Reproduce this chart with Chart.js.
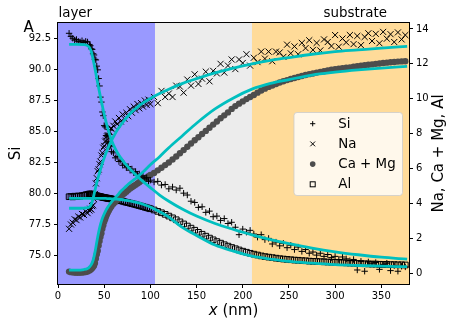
<!DOCTYPE html>
<html><head><meta charset="utf-8">
<script src="https://cdn.jsdelivr.net/npm/chart.js@4.4.0/dist/chart.umd.min.js"></script>
<style>html,body{margin:0;padding:0;background:#fff;overflow:hidden}</style>
</head><body>
<canvas id="c" width="449" height="320"></canvas>
<script>
// ---- data ----
const X = [12,14,16,18,20,22,24,26,28,30,32,34,
 35,36,37,38,39,40,41,42,43,44,45,46,47,48,49,50,51,52,53,54,55,56,57,58,
 60,62,64,66,68,70,72,74,76,78,80,82,84,86,88,90,92,94,96,98,100,
 104,108,112,116,120,124,128,132,136,140,144,148,152,156,160,164,168,172,176,180,184,188,192,196,200,
 204,208,212,216,220,224,228,232,236,240,244,248,252,256,260,264,268,272,276,280,284,288,292,296,300,
 304,308,312,316,320,324,328,332,336,340,344,348,352,356,360,364,368,372,376];
const SI = [92.95,92.7,92.55,92.4,92.45,92.3,92.25,92.35,92.2,92.3,92.25,92.05,
 91.95,91.7,91.65,91.3,91.2,90.85,90.8,90.3,90.0,89.3,88.7,87.8,87.4,86.6,86.3,85.5,85.4,84.7,84.6,84.1,84.2,83.8,83.9,83.4,
 83.3,82.9,83.0,82.6,82.7,82.3,82.4,82.1,82.2,81.9,82.0,81.7,81.8,81.5,81.6,81.35,81.45,81.2,81.3,81.0,81.1,
 80.95,81.0,80.7,80.75,80.4,80.55,80.3,80.45,80.05,79.9,79.4,79.3,78.9,78.95,78.5,78.6,78.15,78.2,77.85,78.0,77.6,77.7,77.3,76.7,77.15,
 76.9,77.05,76.75,76.5,76.7,76.3,76.4,75.95,76.1,75.8,76.0,75.65,75.85,75.5,75.7,75.35,75.5,75.2,75.3,75.05,75.2,74.95,75.1,74.85,74.95,
 74.7,74.9,74.75,74.6,74.7,73.85,74.55,73.75,74.5,74.35,74.45,73.9,74.3,74.4,73.8,74.2,73.75,74.15,74.1];
const NA = [2.55,2.8,2.9,3.1,3.05,3.25,3.2,3.4,3.35,3.55,3.45,3.6,
 3.7,3.65,3.85,3.9,4.25,4.55,5.15,5.45,5.85,5.95,6.25,6.4,6.75,6.9,7.2,7.3,7.55,7.6,7.85,7.9,8.1,8.1,8.3,8.3,
 8.45,8.7,8.55,8.9,8.7,9.1,8.85,9.2,9.0,9.4,9.2,9.55,9.35,9.7,9.45,9.75,9.55,9.9,9.65,9.95,9.7,
 10.1,9.75,10.45,10.1,10.3,10.1,10.75,10.7,10.35,11.1,10.75,11.4,10.85,11.15,11.55,11.0,11.6,11.45,12.0,11.5,11.9,12.25,11.7,12.25,12.05,
 12.55,11.9,12.35,12.1,12.7,12.3,12.7,12.15,12.7,12.65,12.4,13.1,12.6,13.0,12.55,13.2,12.9,13.35,12.8,13.2,12.77,13.4,13.25,13.02,13.65,
 12.98,13.45,13.23,13.65,13.13,13.6,13.07,13.54,13.75,13.31,13.72,13.18,13.83,13.44,13.7,13.25,13.8,13.4,13.65];
const CA = [0.1,0.07,0.06,0.05,0.04,0.04,0.05,0.05,0.06,0.08,0.11,0.16,
 0.2,0.25,0.3,0.38,0.45,0.6,0.85,1.1,1.3,1.6,1.85,2.1,2.3,2.55,2.75,2.95,3.1,3.25,3.38,3.5,3.6,3.7,3.78,3.86,
 3.98,4.08,4.2,4.3,4.4,4.5,4.59,4.68,4.77,4.86,4.93,5.0,5.07,5.15,5.22,5.3,5.37,5.44,5.5,5.57,5.63,
 5.75,5.9,6.05,6.2,6.35,6.52,6.69,6.88,7.06,7.25,7.44,7.62,7.8,7.98,8.16,8.34,8.52,8.7,8.88,9.05,9.22,9.42,9.58,9.72,9.85,
 9.98,10.1,10.22,10.35,10.47,10.58,10.68,10.76,10.85,10.93,11.0,11.07,11.13,11.19,11.25,11.3,11.36,11.41,11.45,11.5,11.54,11.58,11.62,11.66,11.69,
 11.72,11.75,11.78,11.8,11.83,11.86,11.89,11.92,11.95,11.97,12.0,12.02,12.05,12.07,12.09,12.11,12.13,12.14,12.15];
const AL = [4.39,4.4,4.38,4.42,4.4,4.43,4.42,4.45,4.47,4.5,4.52,4.55,
 4.52,4.55,4.53,4.5,4.48,4.47,4.45,4.44,4.43,4.41,4.4,4.39,4.38,4.36,4.35,4.34,4.33,4.32,4.31,4.3,4.29,4.28,4.27,4.26,
 4.24,4.22,4.2,4.18,4.16,4.13,4.1,4.07,4.05,4.02,3.99,3.97,3.94,3.91,3.88,3.85,3.82,3.79,3.76,3.73,3.7,
 3.63,3.55,3.47,3.38,3.28,3.18,3.07,2.95,2.83,2.71,2.59,2.47,2.35,2.24,2.13,2.02,1.92,1.82,1.73,1.64,1.56,1.48,1.41,1.34,1.27,
 1.21,1.15,1.1,1.05,1.0,0.96,0.93,0.9,0.87,0.84,0.82,0.8,0.78,0.76,0.75,0.73,0.72,0.7,0.69,0.68,0.67,0.66,0.65,0.64,0.63,
 0.62,0.61,0.6,0.59,0.58,0.57,0.56,0.55,0.54,0.53,0.53,0.52,0.51,0.51,0.5,0.5,0.49,0.49,0.48];

const FIT_X = [12,20,28,32,34,36,38,40,42,44,46,48,50,52,54,56,58,60,64,68,72,76,80,86,92,100,110,120,135,150,170,190,210,230,250,275,300,325,350,378];
const SI_FIT = [92.05,92.05,92.03,91.95,91.8,91.5,90.85,90.1,89.3,88.55,87.8,87.1,86.4,85.8,85.25,84.75,84.3,83.95,83.35,82.9,82.5,82.15,81.85,81.4,81.0,80.5,79.9,79.4,78.75,78.2,77.6,77.12,76.68,76.3,75.98,75.62,75.32,75.08,74.88,74.72];
const NA_FIT = [3.73,3.73,3.74,3.76,3.8,3.95,4.3,4.75,5.2,5.6,5.95,6.3,6.6,6.9,7.15,7.4,7.62,7.82,8.2,8.5,8.78,9.03,9.25,9.52,9.76,10.02,10.3,10.55,10.88,11.15,11.48,11.75,12.0,12.2,12.36,12.55,12.7,12.8,12.9,13.0];
const CA_FIT = [0.19,0.19,0.22,0.28,0.36,0.5,0.75,1.2,1.8,2.35,2.8,3.15,3.4,3.62,3.8,3.96,4.1,4.22,4.45,4.7,4.9,5.1,5.27,5.52,5.8,6.22,6.68,7.2,7.9,8.6,9.42,10.05,10.55,10.88,11.1,11.36,11.52,11.65,11.76,11.86];
const AL_FIT = [4.3,4.3,4.3,4.3,4.3,4.3,4.3,4.3,4.3,4.3,4.3,4.29,4.29,4.29,4.28,4.28,4.27,4.27,4.25,4.23,4.2,4.16,4.12,4.05,3.96,3.8,3.53,3.22,2.62,2.17,1.62,1.27,0.98,0.82,0.68,0.58,0.5,0.45,0.41,0.38];

const SERIES_NAMES = ['Si','Na','Ca + Mg','Al'];
const X_TICKS = [0,50,100,150,200,250,300,350];
const SI_TICKS = [75,77.5,80,82.5,85,87.5,90,92.5];
const R_TICKS = [0,2,4,6,8,10,12,14];
const X_RANGE = [0,380];
const SI_RANGE = [72.72,93.78];
const R_RANGE = [-0.61,14.34];
const SPAN_EDGES = [0,105,210,380];
const REGION_LABELS = ['layer','substrate'];

// ---- drawing ----
const FONT = "'DejaVu Sans', sans-serif";
const CYAN = '#00bfbf';
const GRAYDOT = '#4d4d4d';
const SPAN_COLORS = ['#9999ff','#ececec','#ffdb99'];

const pts = (xs, ys) => xs.slice(0, Math.min(xs.length, ys.length)).map((x,i)=>({x:x, y:ys[i]}));

const axisCommon = {
  grid:{drawOnChartArea:false, drawTicks:true, tickLength:4, color:'#000', lineWidth:1},
  border:{display:false},
};

const bgPlugin = {
  id:'bg',
  beforeDatasetsDraw(chart){
    const {ctx, chartArea:a, scales:{x}} = chart;
    ctx.save();
    for(let i=0;i<SPAN_EDGES.length-1;i++){
      const x0 = x.getPixelForValue(SPAN_EDGES[i]);
      const x1 = x.getPixelForValue(SPAN_EDGES[i+1]);
      ctx.fillStyle = SPAN_COLORS[i];
      ctx.fillRect(x0, a.top, x1-x0, a.bottom-a.top);
    }
    ctx.restore();
  },
  afterDatasetsDraw(chart){
    const {ctx, chartArea:a} = chart;
    ctx.save();
    ctx.strokeStyle='#000'; ctx.lineWidth=1;
    ctx.strokeRect(Math.round(a.left)-0.5, Math.round(a.top)-0.5, Math.round(a.right-a.left)+1, Math.round(a.bottom-a.top)+1);
    ctx.restore();
  },
  afterDraw(chart){
    const {ctx, chartArea:a} = chart;
    ctx.save();
    ctx.fillStyle='#000';
    ctx.font = '15px '+FONT; ctx.textAlign='left'; ctx.textBaseline='alphabetic';
    ctx.fillText('A', 23.5, 31.5);
    ctx.font = '13.4px '+FONT;
    ctx.textAlign='left'; ctx.fillText(REGION_LABELS[0], a.left+0.5, 17.2);
    ctx.textAlign='right'; ctx.fillText(REGION_LABELS[1], 387, 17.2);
    ctx.font = '15px '+FONT;
    ctx.textBaseline='middle'; ctx.textAlign='center';
    ctx.save(); ctx.translate(16, (a.top+a.bottom)/2); ctx.rotate(-Math.PI/2); ctx.fillText('Si',0,0); ctx.restore();
    ctx.save(); ctx.translate(439, (a.top+a.bottom)/2); ctx.rotate(-Math.PI/2); ctx.fillText('Na, Ca + Mg, Al',0,0); ctx.restore();
    ctx.textBaseline='alphabetic'; ctx.textAlign='left';
    ctx.font = 'italic 15px '+FONT; const w1 = ctx.measureText('x').width;
    ctx.font = '15px '+FONT; const w2 = ctx.measureText(' (nm)').width;
    const cx = (a.left+a.right)/2; const sx = cx-(w1+w2)/2;
    ctx.font = 'italic 15px '+FONT; ctx.fillText('x', sx, 315);
    ctx.font = '15px '+FONT; ctx.fillText(' (nm)', sx+w1, 315);
    // legend
    const L=294, T=112.5, R=402.5, B=195.5;
    ctx.beginPath();
    if (ctx.roundRect) ctx.roundRect(L, T, R-L, B-T, 3); else ctx.rect(L,T,R-L,B-T);
    ctx.fillStyle='rgba(255,255,255,0.8)'; ctx.fill();
    ctx.strokeStyle='rgba(204,204,204,0.8)'; ctx.lineWidth=1; ctx.stroke();
    const rows=[123.7,143.9,164.1,184.3]; const mx=312.7;
    ctx.strokeStyle='#000'; ctx.lineWidth=1;
    ctx.beginPath(); ctx.moveTo(mx-2.6,rows[0]); ctx.lineTo(mx+2.6,rows[0]); ctx.moveTo(mx,rows[0]-2.6); ctx.lineTo(mx,rows[0]+2.6); ctx.stroke();
    ctx.beginPath(); ctx.moveTo(mx-2.4,rows[1]-2.4); ctx.lineTo(mx+2.4,rows[1]+2.4); ctx.moveTo(mx-2.4,rows[1]+2.4); ctx.lineTo(mx+2.4,rows[1]-2.4); ctx.stroke();
    ctx.beginPath(); ctx.arc(mx,rows[2],2.8,0,Math.PI*2); ctx.fillStyle=GRAYDOT; ctx.fill();
    ctx.strokeRect(mx-2.5, rows[3]-2.5, 5, 5);
    ctx.fillStyle='#000'; ctx.font='13.4px '+FONT; ctx.textAlign='left'; ctx.textBaseline='middle';
    SERIES_NAMES.forEach((n,i)=>ctx.fillText(n, 338.3, rows[i]+0.5));
    ctx.restore();
  }
};

const fitDs = (ys, axis) => ({data:pts(FIT_X, ys), yAxisID:axis, showLine:true, pointRadius:0, borderColor:CYAN, borderWidth:2.8, cubicInterpolationMode:'monotone', fill:false, order:1});

new Chart(document.getElementById('c').getContext('2d'), {
  type:'scatter',
  data:{datasets:[
    {label:SERIES_NAMES[0], data:pts(X,SI), yAxisID:'ySi', pointStyle:'cross', pointRadius:3.2, borderColor:'#000', backgroundColor:'#000', borderWidth:1, order:2},
    {label:SERIES_NAMES[1], data:pts(X,NA), yAxisID:'yR', pointStyle:'crossRot', pointRadius:4.3, borderColor:'#000', backgroundColor:'#000', borderWidth:1, order:2},
    {label:SERIES_NAMES[2], data:pts(X,CA), yAxisID:'yR', pointStyle:'circle', pointRadius:3.2, borderColor:GRAYDOT, backgroundColor:GRAYDOT, borderWidth:0, order:2},
    {label:SERIES_NAMES[3], data:pts(X,AL), yAxisID:'yR', pointStyle:'rect', pointRadius:4, borderColor:'#000', backgroundColor:'rgba(0,0,0,0)', borderWidth:1, order:2},
    fitDs(SI_FIT,'ySi'), fitDs(NA_FIT,'yR'), fitDs(CA_FIT,'yR'), fitDs(AL_FIT,'yR')
  ]},
  options:{
    responsive:false, animation:false, events:[],
    layout:{padding:{top:23,left:0,right:0,bottom:0}},
    plugins:{legend:{display:false}, tooltip:{enabled:false}},
    scales:{
      x:Object.assign({type:'linear', min:X_RANGE[0], max:X_RANGE[1],
        afterBuildTicks:s=>{s.ticks=X_TICKS.map(v=>({value:v}));},
        afterFit:s=>{s.height=36;},
        ticks:{font:{family:FONT,size:10}, color:'#000', padding:2, maxRotation:0, autoSkip:false, callback:v=>String(v)}}, axisCommon),
      ySi:Object.assign({type:'linear', position:'left', min:SI_RANGE[0], max:SI_RANGE[1],
        afterBuildTicks:s=>{s.ticks=SI_TICKS.map(v=>({value:v}));},
        afterFit:s=>{s.width=58;},
        ticks:{font:{family:FONT,size:10}, color:'#000', padding:3, autoSkip:false, callback:v=>Number(v).toFixed(1)}}, axisCommon),
      yR:Object.assign({type:'linear', position:'right', min:R_RANGE[0], max:R_RANGE[1],
        afterBuildTicks:s=>{s.ticks=R_TICKS.map(v=>({value:v}));},
        afterFit:s=>{s.width=40;},
        ticks:{font:{family:FONT,size:10}, color:'#000', padding:3, autoSkip:false, callback:v=>String(v)}}, axisCommon)
    }
  },
  plugins:[bgPlugin]
});
</script>
</body></html>
